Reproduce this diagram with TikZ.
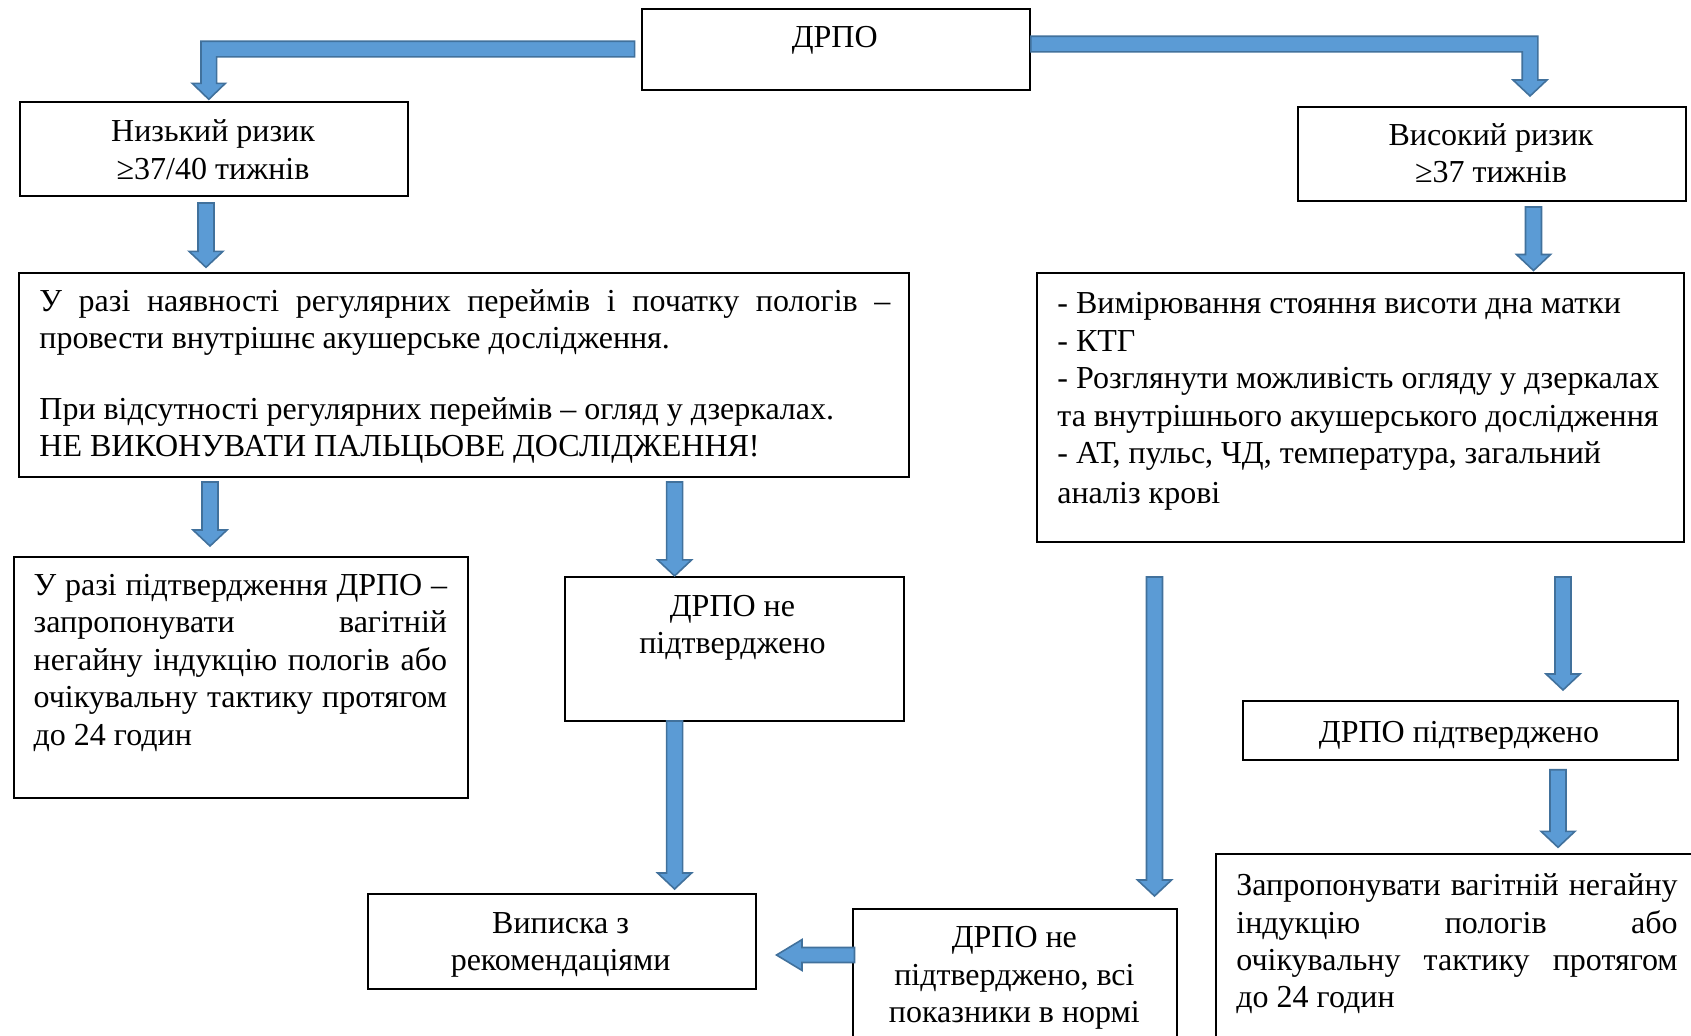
\documentclass[tikz,border=0pt]{standalone}
\usepackage{fontspec}
\setmainfont{Liberation Serif}
\usetikzlibrary{calc}
\definecolor{afill}{HTML}{5B9BD5}
\definecolor{aline}{HTML}{41719C}
\tikzset{
  box/.style={draw=black, line width=1pt, inner sep=0pt, anchor=north west, fill=white},
  tx/.style={inner sep=0pt, font=\fontsize{16}{18.7}\selectfont},
  barrow/.style={fill=afill, draw=aline, line width=0.8pt, line join=miter},
}
\newcommand\st{\vrule height 15pt depth 0pt width 0pt}
\newcommand\jl[2]{\makebox[#1][s]{#2}}
\newcommand\vbarrow[2]{%
  \path[barrow] let \p1=#1, \p2=#2 in
   (\x1-4pt,\y1) -- (\x1+4pt,\y1) -- (\x1+4pt,\y2+8pt) -- (\x1+8.5pt,\y2+8pt) --
   (\x1,\y2) -- (\x1-8.5pt,\y2+8pt) -- (\x1-4pt,\y2+8pt) -- cycle;}
\begin{document}
\begin{tikzpicture}[x=0.5pt,y=-0.5pt]
\clip (0,0) rectangle (1691,1035);
\fill[white] (0,0) rectangle (1691,1035);

% boxes
\node[box, minimum width=194.1pt, minimum height=40.5pt] (drpo) at (640.6,7.5) {};
\node[box, minimum width=193.6pt, minimum height=47pt] (low) at (19.4,101) {};
\node[box, minimum width=193.6pt, minimum height=46.9pt] (high) at (1297.3,105.7) {};
\node[box, minimum width=445pt, minimum height=101.9pt] (bigL) at (18.3,271.8) {};
\node[box, minimum width=323.5pt, minimum height=134.7pt] (listR) at (1036.3,272) {};
\node[box, minimum width=226.7pt, minimum height=120.65pt] (confL) at (13.3,555.5) {};
\node[box, minimum width=169.7pt, minimum height=71.85pt] (notC) at (563.6,575.9) {};
\node[box, minimum width=217.65pt, minimum height=29.2pt] (confR) at (1241.7,700.3) {};
\node[box, minimum width=194pt, minimum height=47.65pt] (disch) at (367,892.7) {};
\node[box, minimum width=161.8pt, minimum height=80pt] (notN) at (852,908) {};
\node[box, minimum width=250pt, minimum height=100pt] (offer) at (1215,853.3) {};

% texts
\node[tx, anchor=north] (tdrpo) at (834.7,17) {\st ДРПО};
\node[tx, anchor=north, align=center] (tlow) at (213,111.5) {\st Низький ризик\\≥37/40 тижнів};
\node[tx, anchor=north, align=center] (thigh) at (1491,115) {\st Високий ризик\\≥37 тижнів};
\node[tx, anchor=north west, align=left] (tbigL) at (39,281) {\st\jl{425.5pt}{У разі наявності регулярних переймів і початку пологів –}\\провести внутрішнє акушерське дослідження.\\[16.5pt]При відсутності регулярних переймів – огляд у дзеркалах.\\НЕ ВИКОНУВАТИ ПАЛЬЦЬОВЕ ДОСЛІДЖЕННЯ!};
\node[tx, anchor=north west, align=left] (tlist) at (1057,283.5) {\st - Вимірювання стояння висоти дна матки\\- КТГ\\- Розглянути можливість огляду у дзеркалах\\та внутрішнього акушерського дослідження\\- АТ, пульс, ЧД, температура, загальний\\[1.5pt]аналіз крові};
\node[tx, anchor=north west, align=left] (tconfL) at (33.3,565) {\st\jl{206.7pt}{У разі підтвердження ДРПО –}\\\jl{206.7pt}{запропонувати вагітній}\\\jl{206.7pt}{негайну індукцію пологів або}\\\jl{206.7pt}{очікувальну тактику протягом}\\до 24 годин};
\node[tx, anchor=north, align=center] (tnotC) at (732.5,586) {\st ДРПО не\\підтверджено};
\node[tx, anchor=north] (tconfR) at (1459,711.7) {\st ДРПО підтверджено};
\node[tx, anchor=north, align=center] (tdisch) at (560.6,903) {\st Виписка з\\рекомендаціями};
\node[tx, anchor=north, align=center] (tnotN) at (1014.4,917.3) {\st ДРПО не\\підтверджено, всі\\показники в нормі};
\node[tx, anchor=north west, align=left] (toffer) at (1236,865.3) {\st\jl{220.65pt}{Запропонувати вагітній негайну}\\\jl{220.65pt}{індукцію пологів або}\\\jl{220.65pt}{очікувальну тактику протягом}\\до 24 годин};

% elbow arrows
\path[barrow] let \p1=($(drpo.west)+(-6,0)$), \p2=($(low.north)+(-5.2,-1.7)$) in
 (\x1,\y1+3.9pt) -- (\x2-3.9pt,\y1+3.9pt) -- (\x2-3.9pt,\y2+8pt) -- (\x2-8.3pt,\y2+8pt) --
 (\x2,\y2) -- (\x2+8.3pt,\y2+8pt) -- (\x2+3.9pt,\y2+8pt) -- (\x2+3.9pt,\y1-3.9pt) -- (\x1,\y1-3.9pt) -- cycle;
\path[barrow] let \p1=($(drpo.east)+(0,-5)$), \p2=($(high.north)+(38.1,-9.7)$) in
 (\x1,\y1+3.9pt) -- (\x2+3.9pt,\y1+3.9pt) -- (\x2+3.9pt,\y2+8pt) -- (\x2+8.5pt,\y2+8pt) --
 (\x2,\y2) -- (\x2-8.5pt,\y2+8pt) -- (\x2-3.9pt,\y2+8pt) -- (\x2-3.9pt,\y1-3.9pt) -- (\x1,\y1-3.9pt) -- cycle;

% vertical arrows
\vbarrow{($(low.south)+(-8,6)$)}{($(bigL.north)+(0,-4.5)$)}
\vbarrow{($(high.south)+(41.6,5.5)$)}{($(listR.north)+(0,-1.5)$)}
\vbarrow{($(bigL.south)+(-254.3,4.4)$)}{($(confL.north)+(0,-9.5)$)}
\vbarrow{($(bigL.south)+(210.3,4.4)$)}{($(notC.north)+(0,0)$)}
\vbarrow{($(notC.south)+(-59.7,-0.6)$)}{($(disch.north)+(0,-3.7)$)}
\vbarrow{($(listR.south)+(-206.3,33.6)$)}{($(notN.north)+(0,-12)$)}
\vbarrow{($(listR.south)+(202.2,33.6)$)}{($(confR.north)+(0,-10.3)$)}
\vbarrow{($(confR.south)+(97.65,9)$)}{($(offer.north)+(0,-6)$)}

% horizontal arrow
\path[barrow] let \p1=($(notN.north west)+(2.5,47)$), \p2=($(disch.east)+(19.5,0)$) in
 (\x1,\y1+3.75pt) -- (\x2+12.75pt,\y1+3.75pt) -- (\x2+12.75pt,\y1+7.7pt) -- (\x2,\y1) --
 (\x2+12.75pt,\y1-7.7pt) -- (\x2+12.75pt,\y1-3.75pt) -- (\x1,\y1-3.75pt) -- cycle;
\end{tikzpicture}
\end{document}
